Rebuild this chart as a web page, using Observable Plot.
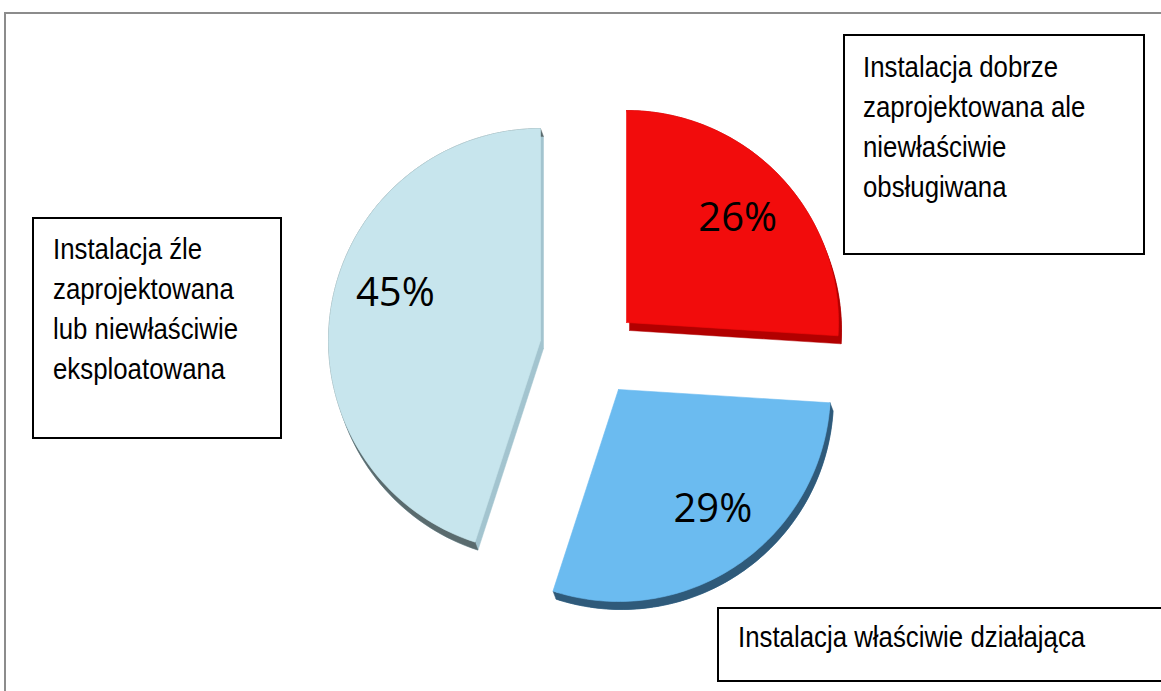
<!DOCTYPE html>
<html>
<head>
<meta charset="utf-8">
<script src="https://cdn.jsdelivr.net/npm/d3@7"></script>
<script src="https://cdn.jsdelivr.net/npm/@observablehq/plot@0.6"></script>
<style>
  html, body { margin: 0; padding: 0; background: #fff; }
  #wrap { position: relative; width: 1161px; height: 691px; overflow: hidden; background: #fff; }
  #wrap svg { position: absolute; left: 0; top: 0; }
  .frame { position: absolute; left: 4px; top: 12px; width: 1200px; height: 720px; border: 2px solid #8c8c8c; box-sizing: border-box; }
  .box { position: absolute; border: 2px solid #000; box-sizing: border-box; background: #fff;
         font-family: "Liberation Sans", Arial, sans-serif; font-size: 29px; line-height: 40px; color: #000; }
  .box span { display: block; white-space: nowrap; transform: scaleX(0.89); transform-origin: 0 0; }
</style>
</head>
<body>
<div id="wrap"><div class="frame"></div></div>
<script>
// ---- data ----
const categories = [
  "Instalacja dobrze zaprojektowana ale niewłaściwie obsługiwana",
  "Instalacja właściwie działająca",
  "Instalacja źle zaprojektowana lub niewłaściwie eksploatowana"
];
const shares = [26, 29, 45];
const percentLabels = ["26%", "29%", "45%"];
const calloutLines = [
  ["Instalacja dobrze", "zaprojektowana ale", "niewłaściwie", "obsługiwana"],
  ["Instalacja właściwie działająca"],
  ["Instalacja źle", "zaprojektowana", "lub niewłaściwie", "eksploatowana"]
];

// ---- layout & style ----
const W = 1161, H = 691;
const layout = {cx: 583, cy: 352, r: 212, depthX: 3, depthY: 8, labelR: 0.72};
const explode = [[43, -30], [35, 37], [-43, -12]];
const faceColors = ["#f20c0c", "#6bbbf0", "#c7e5ed"];
const sideColors = ["#b20000", "#3d6f94", "#a3c4cf"];
const bandColors = ["#b00000", "#2f5a7a", "#5a6b6e"];
const labelAngleAdj = [0, -4, 9];
const boxes = [
  {left: 843, top: 34, width: 302, height: 221, padL: 18, padT: 11},
  {left: 717, top: 607, width: 470, height: 75, padL: 19, padT: 8},
  {left: 32, top: 217, width: 250, height: 222, padL: 19, padT: 10}
];

// ---- geometry from data ----
const total = d3.sum(shares);
const pie = d3.pie().sort(null).value(d => d)(shares);
const N = 90;
const faces = [], sides = [], bands = [], labelsPos = [];
pie.forEach((p, i) => {
  const ax = layout.cx + explode[i][0], ay = layout.cy + explode[i][1];
  const R = layout.r;
  const arc = [];
  for (let k = 0; k <= N; k++) {
    const a = p.startAngle + (p.endAngle - p.startAngle) * k / N;
    arc.push([ax + R * Math.sin(a), ay - R * Math.cos(a)]);
  }
  const face = [[ax, ay], ...arc, [ax, ay]].map(([x, y]) => ({x, y, k: i}));
  faces.push(face);
  sides.push(face.map(d => ({x: d.x + layout.depthX, y: d.y + layout.depthY, k: i})));
  const band = [...arc.map(([x, y]) => ({x, y, k: i})),
                ...arc.slice().reverse().map(([x, y]) => ({x: x + layout.depthX, y: y + layout.depthY, k: i}))];
  band.push(band[0]);
  bands.push(band);
  const mid = (p.startAngle + p.endAngle) / 2 + labelAngleAdj[i] * Math.PI / 180;
  labelsPos.push({x: ax + layout.labelR * R * Math.sin(mid), y: ay - layout.labelR * R * Math.cos(mid), text: percentLabels[i]});
});

const marks = [];
[2, 0, 1].forEach(i => {
  marks.push(Plot.line(sides[i], {x: "x", y: "y", fill: sideColors[i], stroke: sideColors[i], strokeWidth: 0.5, curve: "linear"}));
  marks.push(Plot.line(bands[i], {x: "x", y: "y", fill: bandColors[i], stroke: bandColors[i], strokeWidth: 0.5, curve: "linear"}));
});
[2, 0, 1].forEach(i => {
  marks.push(Plot.line(faces[i], {x: "x", y: "y", fill: faceColors[i], stroke: faceColors[i], strokeWidth: 0.6, curve: "linear"}));
});
marks.push(Plot.text(labelsPos, {x: "x", y: "y", text: "text", fontSize: 40, fontFamily: "Open Sans", fill: "#000", textAnchor: "middle", lineAnchor: "middle"}));

const chart = Plot.plot({
  width: W, height: H, margin: 0,
  x: {domain: [0, W], range: [0, W], axis: null},
  y: {domain: [0, H], range: [0, H], axis: null},
  style: {background: "transparent"},
  marks
});
const wrap = document.getElementById("wrap");
wrap.insertBefore(chart, wrap.firstChild);

boxes.forEach((b, i) => {
  const div = document.createElement("div");
  div.className = "box";
  div.style.left = b.left + "px"; div.style.top = b.top + "px";
  div.style.width = b.width + "px"; div.style.height = b.height + "px";
  div.style.paddingLeft = b.padL + "px"; div.style.paddingTop = b.padT + "px";
  div.title = categories[i];
  calloutLines[i].forEach(t => { const s = document.createElement("span"); s.textContent = t; div.appendChild(s); });
  wrap.appendChild(div);
});
</script>
</body>
</html>
